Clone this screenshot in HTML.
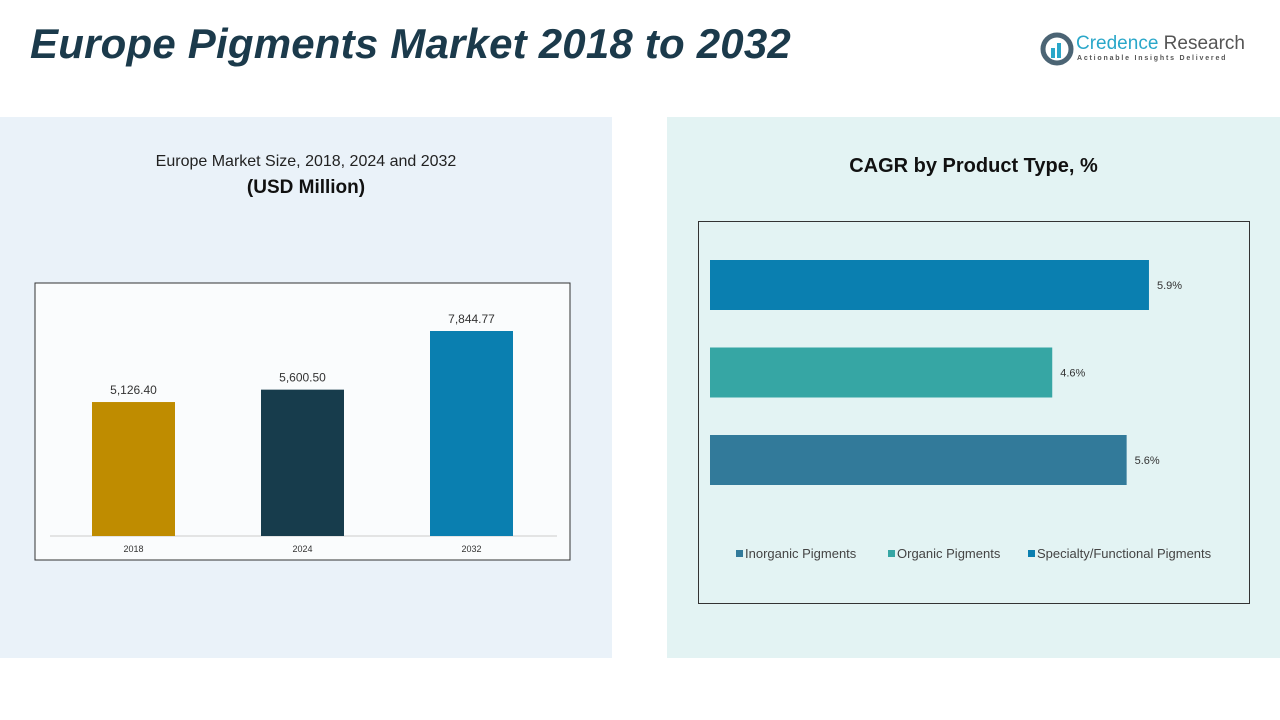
<!DOCTYPE html>
<html><head><meta charset="utf-8"><style>
body{margin:0;width:1280px;height:720px;background:#fff;position:relative;overflow:hidden;font-family:"Liberation Sans",sans-serif}
.abs{position:absolute}
</style></head><body>
<div class="abs" style="left:30px;top:20px;font-size:42px;font-weight:bold;font-style:italic;color:#1b3a4b;letter-spacing:0.2px">Europe Pigments Market 2018 to 2032</div>
<div class="abs" style="left:1040px;top:30px;width:215px;height:40px">
 <svg class="abs" width="34" height="34" style="left:0;top:2px"><circle cx="17" cy="17" r="14" fill="none" stroke="#4b6474" stroke-width="5"/><rect x="11" y="16" width="4" height="10" fill="#2aa7c9"/><rect x="17" y="11" width="4" height="15" fill="#2aa7c9"/></svg>
 <div class="abs" style="left:36px;top:3px;font-size:19px;color:#2aa7c9">Credence <span style="color:#555">Research</span></div>
 <div class="abs" style="left:37px;top:25px;font-size:7px;letter-spacing:1.8px;color:#555;font-weight:bold">Actionable Insights Delivered</div>
</div>
<div class="abs" style="left:0;top:117px;width:612px;height:541px;background:#eaf2f9"></div>
<div class="abs" style="left:667px;top:117px;width:613px;height:541px;background:#e3f3f3"></div>
<div class="abs" style="left:0;top:153px;width:612px;text-align:center;font-size:16px;color:#222">Europe Market Size, 2018, 2024 and 2032</div>
<div class="abs" style="left:0;top:177px;width:612px;text-align:center;font-size:19px;font-weight:bold;color:#111">(USD Million)</div>
<div class="abs" style="left:667px;top:155px;width:613px;text-align:center;font-size:20px;font-weight:bold;color:#111">CAGR by Product Type, %</div>
<svg class="abs" style="left:0;top:0" width="1280" height="720" id="svg">
 <rect x="35" y="283" width="535" height="277" fill="#fafcfd" stroke="#333" stroke-width="1"/>
 <rect x="698.5" y="221.5" width="551" height="382" fill="none" stroke="#333" stroke-width="1"/>
 <line x1="50" y1="536" x2="557" y2="536" stroke="#ccc"/>
</svg>
<script>
const years=["2018","2024","2032"];
const sizes=[5126.40,5600.50,7844.77];
const sizeLabels=["5,126.40","5,600.50","7,844.77"];
const barColors=["#bf8c00","#173c4c","#0a7fb0"];
const segments=["Specialty/Functional Pigments","Organic Pigments","Inorganic Pigments"];
const cagr=[5.9,4.6,5.6];
const segColors=["#0a7fb0","#36a6a4","#327a9a"];
const legendOrder=["Inorganic Pigments","Organic Pigments","Specialty/Functional Pigments"];
const legendColors=["#327a9a","#36a6a4","#0a7fb0"];
const NS="http://www.w3.org/2000/svg";
const svg=document.getElementById('svg');
function mk(t,a){const e=document.createElementNS(NS,t);for(const k in a)e.setAttribute(k,a[k]);svg.appendChild(e);return e;}
const y=v=>536-v*205/7844.77;
const xc=i=>133.5+i*169;
years.forEach((yr,i)=>{
 const r=mk('rect',{x:xc(i)-41.5,y:y(sizes[i]),width:83,height:536-y(sizes[i]),fill:barColors[i]});
 
 
 const t=mk('text',{x:xc(i),y:y(sizes[i])-8,'text-anchor':'middle','font-size':12,fill:'#333','font-family':'Liberation Sans'});t.textContent=sizeLabels[i];
 
 
 const l=mk('text',{x:xc(i),y:552,'text-anchor':'middle','font-size':9,fill:'#333','font-family':'Liberation Sans'});l.textContent=yr;
 
 
});
const hx=v=>710+v*74.4;
segments.forEach((s,i)=>{
 const top=260+i*87.5;
 const r=mk('rect',{x:710,y:top,width:hx(cagr[i])-710,height:50,fill:segColors[i]});
 
 
 const t=mk('text',{x:hx(cagr[i])+8,y:top+29,'font-size':11,fill:'#333','font-family':'Liberation Sans'});t.textContent=cagr[i]+'%';
 
 
});
let lx=736;
legendOrder.forEach((s,i)=>{
 const r=mk('rect',{x:lx,y:550,width:7,height:7,fill:legendColors[i]});
 
 
 const t=mk('text',{x:lx+9,y:558,'font-size':13,fill:'#444','font-family':'Liberation Sans'});t.textContent=s;
 
 
 lx+= [152,140,200][i];
});
</script>
</body></html>
